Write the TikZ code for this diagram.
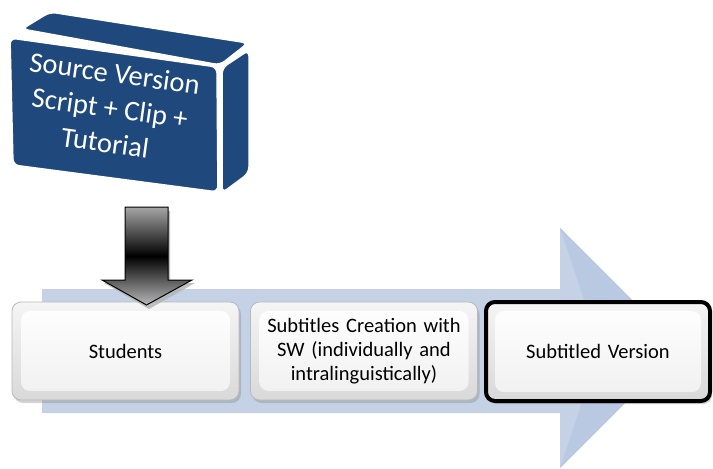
\documentclass[tikz,border=0pt]{standalone}
\usepackage{fontspec}
\setmainfont{Carlito}
\usetikzlibrary{shadows}
\definecolor{boxblue}{RGB}{31,73,125}
\definecolor{flow}{RGB}{197,210,230}
\definecolor{flowdark}{RGB}{186,201,226}
\tikzset{
  stepbox/.style={rounded corners=9pt, minimum width=227pt, minimum height=98pt,
    top color=gray!8, bottom color=gray!30, draw=gray!55, line width=0.8pt,
    align=center, font=\fontsize{20.5}{24}\selectfont, text width=210pt,
    drop shadow={shadow xshift=2pt, shadow yshift=-3pt, opacity=0.35},
    path picture={\shade[top color=white, bottom color=gray!12]
      ([shift={(9pt,-9pt)}]path picture bounding box.north west) rectangle
      ([shift={(-9pt,9pt)}]path picture bounding box.south east);}},
  face/.style={fill=boxblue, draw=white, line width=1.5pt, rounded corners=6pt},
}
\begin{document}
\begin{tikzpicture}[x=1pt,y=-1pt]
\useasboundingbox (0,0) rectangle (713,469);
% big flow arrow
\fill[flow] (42,289) -- (560,289) -- (560,228) -- (680,348) -- (560,468) -- (560,413) -- (42,413) -- cycle;
\fill[flowdark] (560,228) -- (680,348) -- (560,468) -- (600,348) -- cycle;
% 3D source box
\path[face] (22,29) -- (50,12) -- (248,43) -- (220,65) -- cycle;
\path[face] (222,68) -- (249,50) -- (249,173) -- (222,193) -- cycle;
\path[face] (10,38) -- (217,67) -- (218,192) -- (13,165) -- cycle;
\node[rotate=-8, text=white, align=center, font=\fontsize{28.5}{35}\selectfont] (src) at (110,108) {Source Version\\Script + Clip +\\Tutorial};
% steps
\node[stepbox] (students) at (125.5,351) {Students};
\node[stepbox] (subt) at (364,351) {Subtitles Creation with\\SW (individually and\\intralinguistically)};
\node[stepbox, minimum width=224pt, minimum height=99pt, draw=black, line width=4pt] (version) at (598,351.5) {Subtitled Version};
% down arrow
\fill[gray!60, opacity=0.8] (127,211) -- (170,211) -- (170,283) -- (195,283) -- (149,309) -- (104,283) -- (127,283) -- cycle;
\shade[top color=gray!70, bottom color=gray!55, middle color=black, draw=black, line width=1pt]
  (125,207) -- (168,207) -- (168,280) -- (192,280) -- (146.5,305) -- (102,280) -- (125,280) -- cycle;
\end{tikzpicture}
\end{document}
